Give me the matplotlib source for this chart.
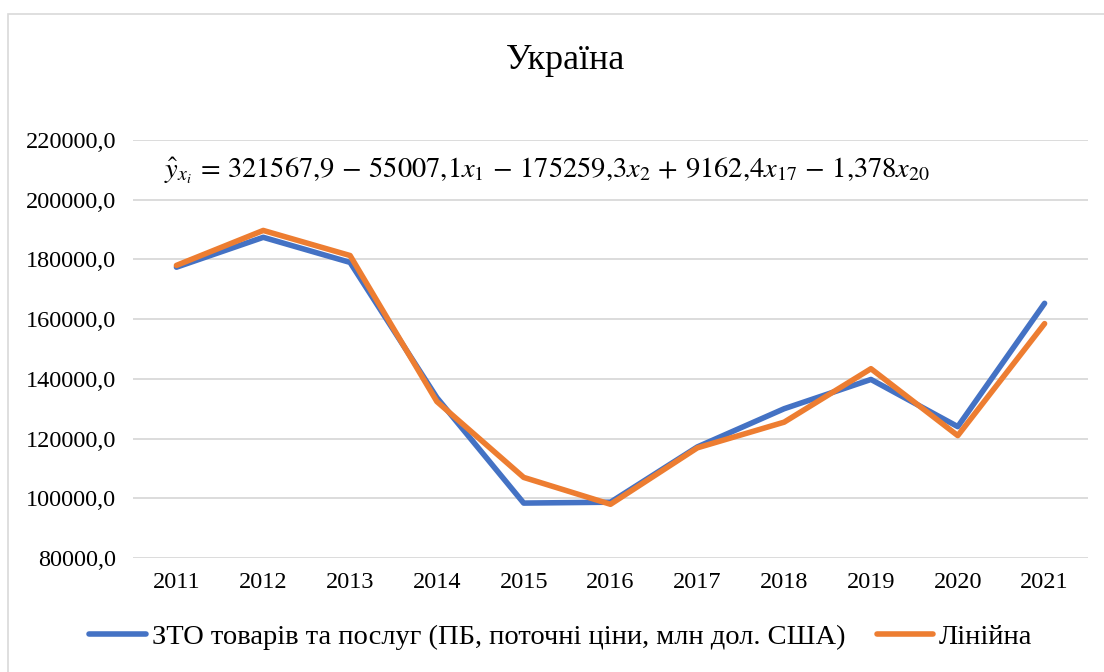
import matplotlib.pyplot as plt
from matplotlib.patches import Rectangle
from matplotlib.ticker import FuncFormatter

plt.rcParams['font.family'] = ['Liberation Serif', 'DejaVu Serif']
plt.rcParams['mathtext.fontset'] = 'stix'

years = ['2011', '2012', '2013', '2014', '2015', '2016',
         '2017', '2018', '2019', '2020', '2021']
# ЗТО товарів та послуг, фактичні значення
actual = [177400, 187400, 179000, 133700, 98400, 98700,
          117200, 130000, 139800, 124000, 165300]
# лінійна модель
linear = [178000, 189700, 181300, 132400, 107000, 98000,
          116900, 125500, 143400, 121000, 158500]

label_actual = 'ЗТО товарів та послуг (ПБ, поточні ціни, млн дол. США)'
label_linear = 'Лінійна'
equation = (r'$\hat{y}_{x_i}\,=\,321567{,}9\,-\,55007{,}1x_1\,-\,175259{,}3x_2'
            r'\,+\,9162{,}4x_{17}\,-\,1{,}378x_{20}$')

fig = plt.figure(figsize=(11.04, 6.72), dpi=100)
ax = fig.add_axes([0.1205, 0.1696, 0.8650, 0.6221])

# рамка діаграми
fig.patches.append(Rectangle((8 / 1104, -0.05), 1.2, 1 - 14 / 672 + 0.05,
                             transform=fig.transFigure, fill=False,
                             edgecolor='#d9d9d9', linewidth=1.2))

xs = range(len(years))
ax.plot(xs, actual, color='#4472C4', linewidth=4, solid_capstyle='round',
        label=label_actual)
ax.plot(xs, linear, color='#ED7D31', linewidth=4, solid_capstyle='round',
        label=label_linear)

ax.set_xlim(-0.5, len(years) - 0.5)
ax.set_ylim(80000, 220000)
ax.set_yticks(range(80000, 220001, 20000))
ax.yaxis.set_major_formatter(FuncFormatter(lambda v, p: f'{v:.1f}'.replace('.', ',')))
ax.set_xticks(list(xs))
ax.set_xticklabels(years)
ax.tick_params(axis='both', length=0, labelsize=17.5, colors='#000000')
ax.tick_params(axis='y', pad=12)
ax.tick_params(axis='x', pad=10)
ax.grid(axis='y', color='#d9d9d9', linewidth=1.3)
ax.set_axisbelow(True)
for s in ax.spines.values():
    s.set_visible(False)

fig.text(0.512, 0.91, 'Україна', ha='center', va='center', fontsize=26)
fig.text(0.149, 0.745, equation, ha='left', va='center', fontsize=20.5)

fig.legend(loc='center', bbox_to_anchor=(0.508, 0.052), ncol=2, frameon=False,
           fontsize=20.5, handlelength=2.0, handletextpad=0.2, columnspacing=1.1)

fig.savefig('out.png', dpi=100)
